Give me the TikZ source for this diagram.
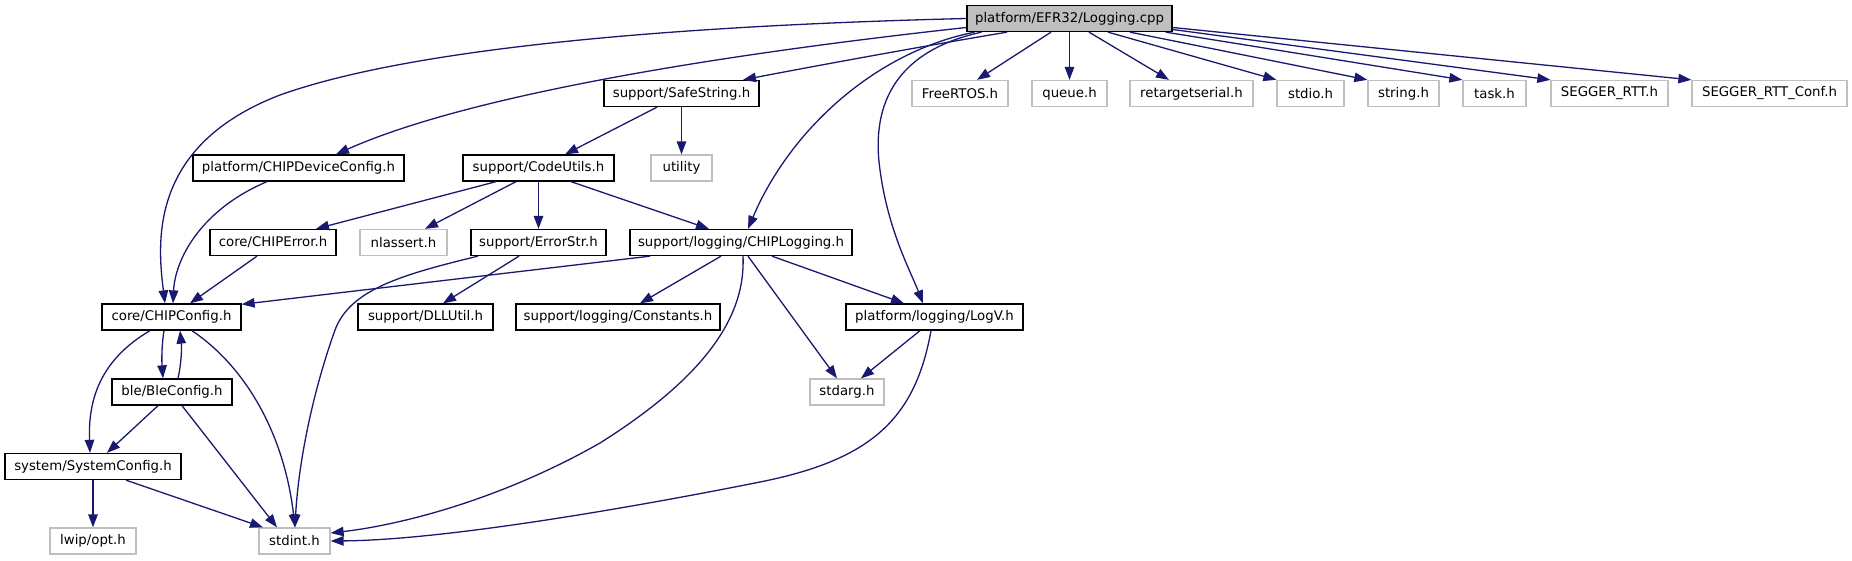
\documentclass[tikz,border=0pt]{standalone}
\usepackage{fontspec}
\setmainfont{DejaVu Sans}
\usetikzlibrary{arrows.meta}
\definecolor{edgeblue}{HTML}{191970}
\definecolor{lightgrey}{HTML}{BFBFBF}
\begin{document}
\begin{tikzpicture}[x=1pt,y=-1pt,
  box/.style={draw=black,line width=1.3pt,fill=white,minimum height=26pt,inner sep=0pt,
    font=\fontsize{13.3}{15}\selectfont,text=black},
  ext/.style={box,draw=lightgrey},
  root/.style={box,fill=lightgrey},
  e/.style={draw=edgeblue,line width=1.3pt,-{Triangle[length=13pt,width=9.5pt]}}]
\useasboundingbox[fill=white] (0,0) rectangle (1852,560);

% row 1
\node[root,minimum width=205pt] (main) at (1069.5,18.5) {platform/EFR32/Logging.cpp};
% row 2
\node[box,minimum width=155pt] (safestr) at (681.5,93.5) {support/SafeString.h};
\node[ext,minimum width=96pt] (freertos) at (960,93.5) {FreeRTOS.h};
\node[ext,minimum width=75pt] (queue) at (1069.5,93.5) {queue.h};
\node[ext,minimum width=123pt] (retarget) at (1191.5,93.5) {retargetserial.h};
\node[ext,minimum width=67pt] (stdio) at (1310.5,93.5) {stdio.h};
\node[ext,minimum width=71pt] (string) at (1403.5,93.5) {string.h};
\node[ext,minimum width=63pt] (task) at (1494.5,93.5) {task.h};
\node[ext,minimum width=117pt] (rtt) at (1609.5,93.5) {SEGGER\_RTT.h};
\node[ext,minimum width=155pt] (rttconf) at (1769.5,93.5) {SEGGER\_RTT\_Conf.h};
% row 3
\node[box,minimum width=211pt] (devcfg) at (298.5,168) {platform/CHIPDeviceConfig.h};
\node[box,minimum width=151pt] (codeutils) at (538.5,168) {support/CodeUtils.h};
\node[ext,minimum width=61pt] (utility) at (681.5,168) {utility};
% row 4
\node[box,minimum width=126pt] (chiperr) at (273,242.5) {core/CHIPError.h};
\node[ext,minimum width=87pt] (nlassert) at (403.5,242.5) {nlassert.h};
\node[box,minimum width=135pt] (errstr) at (538.5,242.5) {support/ErrorStr.h};
\node[box,minimum width=222pt] (chiplog) at (741,242.5) {support/logging/CHIPLogging.h};
% row 5
\node[box,minimum width=139pt] (chipcfg) at (171.5,317) {core/CHIPConfig.h};
\node[box,minimum width=135pt] (dllutil) at (425.5,317) {support/DLLUtil.h};
\node[box,minimum width=204pt] (constants) at (618,317) {support/logging/Constants.h};
\node[box,minimum width=177pt] (logv) at (934.5,317) {platform/logging/LogV.h};
% row 6
\node[box,minimum width=120pt] (ble) at (172,392) {ble/BleConfig.h};
\node[ext,minimum width=74pt] (stdarg) at (847,392) {stdarg.h};
% row 7
\node[box,minimum width=176pt] (syscfg) at (93,466.5) {system/SystemConfig.h};
% row 8
\node[ext,minimum width=86pt] (lwip) at (93,541) {lwip/opt.h};
\node[ext,minimum width=71pt] (stdint) at (294.5,541) {stdint.h};

% edges from main
\draw[e] (main.west) .. controls (700,25) and (420,45) .. (280,95)
  .. controls (150,145) and (157,240) .. ([xshift=-6.5pt]chipcfg.north);
\draw[e] ([yshift=-9pt]main.west) .. controls (760,50) and (480,90) .. ([xshift=37.5pt]devcfg.north);
\draw[e] ([xshift=-62.5pt]main.south) .. controls (930,45) and (820,65) .. ([xshift=61.5pt]safestr.north);
\draw[e] ([xshift=-95pt]main.south) .. controls (875,52) and (790,130) .. ([xshift=7pt]chiplog.north);
\draw[e] ([xshift=-88pt]main.south) .. controls (900,50) and (870,100) .. (880,170)
  .. controls (888,230) and (910,270) .. ([xshift=-11.5pt]logv.north);
\draw[e] ([xshift=-18.5pt]main.south) -- ([xshift=17pt]freertos.north);
\draw[e] (main.south) -- (queue.north);
\draw[e] ([xshift=19.5pt]main.south) -- ([xshift=-22.5pt]retarget.north);
\draw[e] ([xshift=38.5pt]main.south) -- (stdio.north west);
\draw[e] ([xshift=60.5pt]main.south) -- (string.north west);
\draw[e] ([xshift=-7pt]main.south east) -- (task.north west);
\draw[e] ([yshift=-11pt]main.east) -- (rtt.north west);
\draw[e] ([yshift=-9pt]main.east) -- (rttconf.north west);

% safestring
\draw[e] ([xshift=-24.5pt]safestr.south) -- ([xshift=26.5pt]codeutils.north);
\draw[e] (safestr.south) -- (utility.north);

% codeutils
\draw[e] ([xshift=-42.5pt]codeutils.south) -- ([xshift=43pt]chiperr.north);
\draw[e] ([xshift=-22.5pt]codeutils.south) -- ([xshift=21.5pt]nlassert.north);
\draw[e] (codeutils.south) -- (errstr.north);
\draw[e] ([xshift=32.5pt]codeutils.south) -- ([xshift=-32pt]chiplog.north);

% devcfg, chiperr
\draw[e] ([xshift=-31.5pt]devcfg.south) .. controls (200,210) and (175,260) .. ([xshift=1.5pt]chipcfg.north);
\draw[e] ([xshift=-16pt]chiperr.south) -- ([xshift=18.5pt]chipcfg.north);

% errstr
\draw[e] ([xshift=-19.5pt]errstr.south) -- ([xshift=17.5pt]dllutil.north);
\draw[e] ([xshift=-60.5pt]errstr.south) .. controls (400,275) and (350,290) .. (335,330)
  .. controls (310,400) and (298,470) .. ([xshift=0.5pt]stdint.north);

% chiplog
\draw[e] ([xshift=-91pt]chiplog.south) -- ([yshift=-1pt]chipcfg.north east);
\draw[e] ([xshift=-20pt]chiplog.south) -- ([xshift=22pt]constants.north);
\draw[e] ([xshift=2pt]chiplog.south) .. controls (746,320) and (700,380) .. (600,443)
  .. controls (500,500) and (400,525) .. ([yshift=8pt]stdint.east);
\draw[e] ([xshift=7pt]chiplog.south) -- ([xshift=-10pt]stdarg.north);
\draw[e] ([xshift=31pt]chiplog.south) -- ([xshift=-30.5pt]logv.north);

% logv
\draw[e] ([xshift=-14.5pt]logv.south) -- ([xshift=14pt]stdarg.north);
\draw[e] ([xshift=-3.5pt]logv.south) .. controls (915,420) and (870,460) .. (760,482)
  .. controls (650,504) and (450,540) .. (stdint.east);

% chipcfg
\draw[e] ([xshift=-7.5pt]chipcfg.south) .. controls (161,350) and (162,365) .. ([xshift=-9pt]ble.north);
\draw[e] ([xshift=6pt]ble.north) .. controls (181,365) and (182,350) .. ([xshift=8.5pt]chipcfg.south);
\draw[e] ([xshift=-21.5pt]chipcfg.south) .. controls (100,360) and (88,400) .. ([xshift=-3pt]syscfg.north);
\draw[e] ([xshift=20.5pt]chipcfg.south) .. controls (250,370) and (285,440) .. ([xshift=0.5pt]stdint.north);

% ble
\draw[e] ([xshift=-14pt]ble.south) -- ([xshift=14pt]syscfg.north);
\draw[e] ([xshift=10pt]ble.south) -- ([xshift=-17.5pt]stdint.north);

% syscfg
\draw[e] (syscfg.south) -- (lwip.north);
\draw[e] ([xshift=33pt]syscfg.south) -- ([xshift=-31.5pt]stdint.north);
\end{tikzpicture}
\end{document}
